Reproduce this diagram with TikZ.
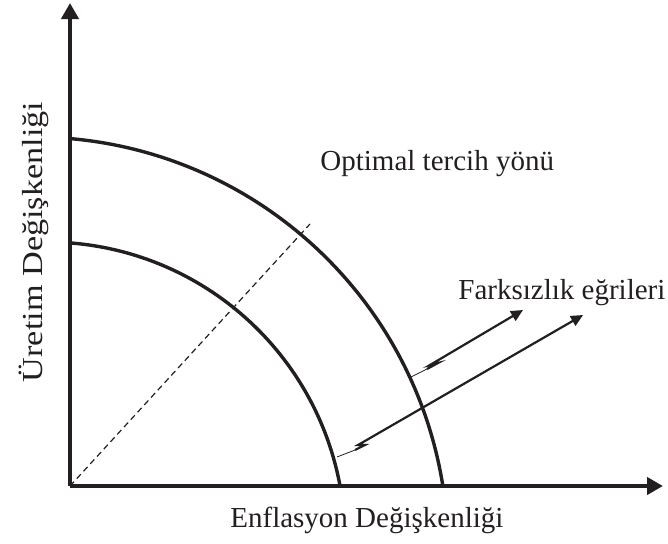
\documentclass[tikz,border=0pt]{standalone}
\usepackage{fontspec}
\setmainfont{Liberation Serif}
\usetikzlibrary{arrows.meta}
\definecolor{ink}{RGB}{35,31,32}

\begin{document}
\begin{tikzpicture}[x=0.5pt,y=0.5pt,
  axis/.style={draw=ink,line width=2pt,-{Triangle[length=8pt,width=8.5pt]}},
  curve/.style={draw=ink,line width=1.7pt},
  guide/.style={draw=ink,line width=0.6pt,dash pattern=on 3pt off 2pt},
  lead/.style={draw=ink,line width=0.4pt},
  pointer/.style={draw=ink,line width=1.1pt,line join=miter,-{Triangle[length=6pt,width=5.5pt]}},
  label/.style={font=\fontsize{14.5}{17}\selectfont,text=ink,inner sep=0pt}
]
\useasboundingbox (-70,-57) rectangle (598,486);
% axes
\coordinate (o) at (0,0);
\coordinate (ytip) at (0,483);
\coordinate (xtip) at (593,0);
\draw[axis] (o) -- (ytip);
\draw[axis] (o) -- (xtip);
% indifference curves
\draw[curve] ([shift={(-36,-65)}]85:414) arc[start angle=85,end angle=9,radius=414];
\draw[curve] ([shift={(-23,-54)}]85.6:298) arc[start angle=85.6,end angle=10.4,radius=298];
% preferred direction
\coordinate (gtop) at (240,262);
\draw[guide] (o) -- (gtop);
% labels
\node[label,anchor=base west] (pref) at (250,316) {Optimal tercih yönü};
\node[label,anchor=base west] (indiff) at (388,187) {Farksızlık eğrileri};
\node[label,anchor=base west] (xlab) at (160,-41) {Enflasyon Değişkenliği};
\node[label,rotate=90,anchor=base] (ylab) at (-27,244) {\scalebox{1.18}[1]{Üretim Değişkenliği}};
% pointers to the curves
\coordinate (s1) at (341,109);
\coordinate (a1) at (357,117);
\coordinate (b1) at (368,123);
\coordinate (c1) at (360,121);
\coordinate (t1) at (453,176);
\draw[lead] (s1) -- (a1);
\draw[pointer] (a1) -- (b1) -- (c1) -- (t1);
\coordinate (s2) at (267,29);
\coordinate (a2) at (285,36);
\coordinate (b2) at (295,41);
\coordinate (c2) at (288,41);
\coordinate (t2) at (513,171);
\draw[lead] (s2) -- (a2);
\draw[pointer] (a2) -- (b2) -- (c2) -- (t2);
\end{tikzpicture}
\end{document}
